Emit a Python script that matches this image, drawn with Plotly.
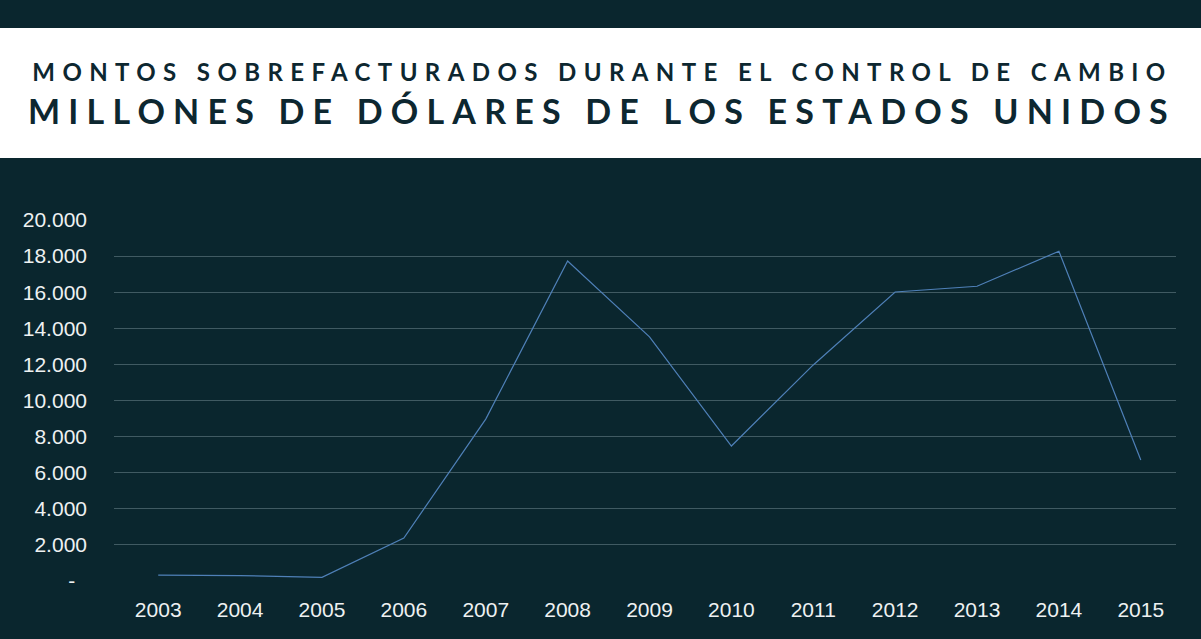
import plotly.graph_objects as go

years = ["2003", "2004", "2005", "2006", "2007", "2008", "2009",
         "2010", "2011", "2012", "2013", "2014", "2015"]
montos = [330, 300, 200, 2380, 8970, 17730, 13530,
          7480, 11970, 16010, 16330, 18270, 6700]

y_ticks = [0, 2000, 4000, 6000, 8000, 10000, 12000, 14000, 16000, 18000, 20000]
y_labels = ["-\u00a0\u00a0", "2.000", "4.000", "6.000", "8.000", "10.000",
            "12.000", "14.000", "16.000", "18.000", "20.000"]

title_1 = "MONTOS SOBREFACTURADOS DURANTE EL CONTROL DE CAMBIO"
title_2 = "MILLONES DE DÓLARES DE LOS ESTADOS UNIDOS"

bg = "#0a262e"
ink = "#0d2730"

fig = go.Figure()
fig.add_trace(go.Scatter(
    x=years, y=montos, mode="lines",
    line=dict(color="#4f80b8", width=1.2),
    hoverinfo="x+y", showlegend=False
))

# plot area spans pixels x 114..1176, y 220..581
H = 361.0
W = 1062.0
def py(p):
    return (581 - p) / H
def px(p):
    return (p - 114) / W

fig.add_shape(type="rect", xref="paper", yref="paper",
              x0=px(0), x1=px(1201), y0=py(158), y1=py(28),
              fillcolor="white", line_width=0, layer="below")

fig.add_annotation(text=title_1, xref="paper", yref="paper",
                   x=px(602), y=py(72), xanchor="center", yanchor="middle",
                   showarrow=False,
                   font=dict(family="Lato", size=24, color=ink, weight=700))
fig.add_annotation(text=title_2, xref="paper", yref="paper",
                   x=px(602), y=py(110), xanchor="center", yanchor="middle",
                   showarrow=False,
                   font=dict(family="Lato", size=34, color=ink, weight=700))

fig.update_layout(
    width=1201, height=639,
    margin=dict(l=114, r=25, t=220, b=58, autoexpand=False),
    paper_bgcolor=bg, plot_bgcolor=bg,
    font=dict(family="Liberation Sans", size=21, color="#eef1f2"),
)
fig.update_xaxes(type="category", range=[-0.54, 12.43], showgrid=False,
                 zeroline=False, showline=False, ticks="",
                 ticklabelstandoff=14, tickfont=dict(size=21))
fig.update_yaxes(range=[0, 20000], tickvals=y_ticks, ticktext=y_labels,
                 showgrid=True, gridcolor="#405a62", gridwidth=1,
                 zeroline=False, showline=False, ticks="",
                 ticklabelstandoff=26)

# no page margin; spaced-out title letters
js = """
document.body.style.margin = '0';
document.body.style.overflow = 'hidden';
var t = document.querySelectorAll('.annotation-text');
if (t.length > 0) { t[0].style.letterSpacing = '7.4px'; }
if (t.length > 1) { t[1].style.letterSpacing = '8.2px'; }
"""
fig.write_html("out.html", post_script=js, config={"displayModeBar": False})
